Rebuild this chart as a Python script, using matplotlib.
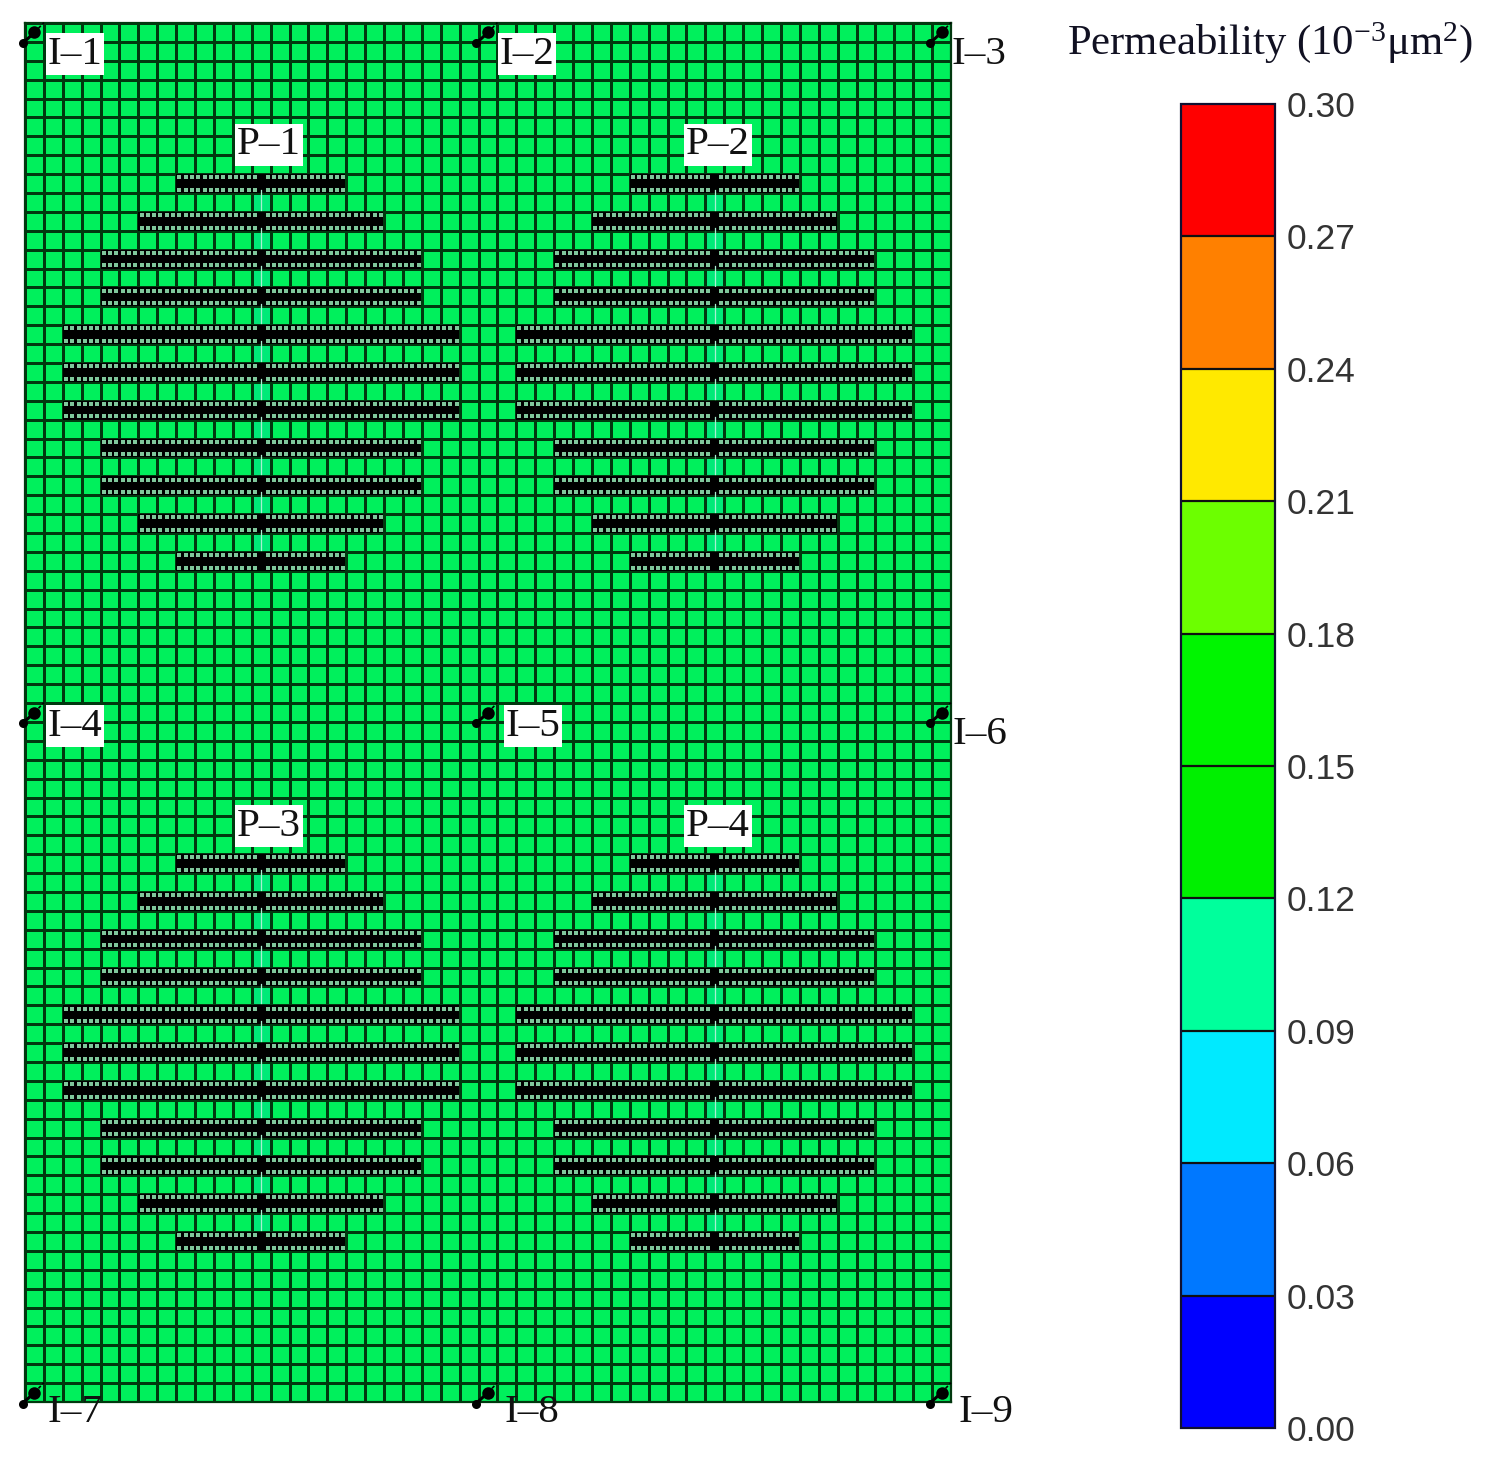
import numpy as np
import matplotlib
matplotlib.use("Agg")
import matplotlib.pyplot as plt
from matplotlib.colors import ListedColormap, BoundaryNorm
from matplotlib.cm import ScalarMappable

W, H = 1485, 1466

n_cols = 49
n_rows = 73

# fractured wells: centre column, first fracture row
producer_cols = [12, 36]
producer_first_rows = [8, 44]
fracture_half_lengths = [4, 6, 8, 8, 10, 10, 10, 8, 8, 6, 4]

injector_cols = [0, 24, 48]
injector_rows = [0, 36, 72]

label_names = ["I\u20131", "I\u20132", "I\u20133", "I\u20134", "I\u20135", "I\u20136", "I\u20137", "I\u20138", "I\u20139",
               "P\u20131", "P\u20132", "P\u20133", "P\u20134"]
label_px = [75, 527, 979, 75, 533, 980, 75, 532, 986, 269, 718, 269, 718]
label_py = [54, 54, 54, 726, 726, 735, 1413, 1413, 1413, 145, 145, 826, 826]
label_boxed = [True, True, False, True, True, False, False, False, False, True, True, True, True]

perm_levels = [0.00, 0.03, 0.06, 0.09, 0.12, 0.15, 0.18, 0.21, 0.24, 0.27, 0.30]
perm_colors = ["#0000ff", "#0078ff", "#00eaff", "#00ff9c", "#00f000",
               "#00f500", "#6cff00", "#ffe900", "#ff8000", "#ff0000"]

matrix_color = "#00f05c"
stimulated_color = "#00ea78"
grid_color = "#01380f"

plt.rcParams["font.family"] = "Liberation Serif"
plt.rcParams["mathtext.default"] = "regular"

fig = plt.figure(figsize=(W / 100, H / 100), dpi=100)
ax = fig.add_axes([25 / W, 1 - 1402 / H, 926 / W, 1379 / H])

# 0 = matrix, 1 = stimulated column through each well
field = np.zeros((n_rows, n_cols))
for c, r0 in [(c, r) for c in producer_cols for r in producer_first_rows]:
    field[r0:r0 + 2 * len(fracture_half_lengths) - 1, c] = 1

ax.pcolormesh(np.arange(n_cols + 1), np.arange(n_rows + 1), field,
              cmap=ListedColormap([matrix_color, stimulated_color]), vmin=0, vmax=1,
              edgecolors=grid_color, linewidth=1.8)

for c in producer_cols:
    for r0 in producer_first_rows:
        for i, hl in enumerate(fracture_half_lengths):
            r = r0 + 2 * i
            ax.barh(r + 0.5, 2 * hl + 0.95, left=c - hl, height=1.0, color="black", zorder=3)
            # refined cells show up as a row of tiny dots on each edge of the fracture
            xs = np.arange(c - hl, c + hl + 1, 1 / 3) + 1 / 6
            xs = xs[np.abs(xs - c - 0.5) > 0.3]
            for dy in [0.17, 0.83]:
                ax.scatter(xs, np.full(len(xs), r + dy), s=6.5, marker="s", linewidths=0,
                           color="#7fc79b", zorder=4)
            # pale dashed centre line between fractures
            if i < len(fracture_half_lengths) - 1:
                ax.plot([c + 0.5, c + 0.5], [r + 0.85, r + 1.9], color="#a8f0d2", lw=0.9,
                        zorder=3)

for c in injector_cols:
    for r in injector_rows:
        ax.plot([c + 0.5, c + 1.0], [r + 0.5, r - 0.02], color="black", lw=1.2, ls=(0, (2, 1.5)),
                zorder=5, clip_on=False)
        ax.plot([c - 0.13, c + 0.5], [r + 1.08, r + 0.5], color="black", lw=2.2,
                zorder=5, clip_on=False)
        ax.plot([c + 0.5], [r + 0.5], "o", color="black", ms=9, mew=0, zorder=6, clip_on=False)
        ax.plot([c - 0.13], [r + 1.08], "o", color="black", ms=6.5, mew=0, zorder=6, clip_on=False)

ax.set_xlim(0, n_cols)
ax.set_ylim(n_rows, 0)
ax.set_xticks([])
ax.set_yticks([])
for s in ax.spines.values():
    s.set_color(grid_color)
    s.set_linewidth(1.6)

for name, px, py, boxed in zip(label_names, label_px, label_py, label_boxed):
    fig.text(px / W, 1 - py / H, name, fontsize=29.5, color="#111111", ha="center", va="center",
             zorder=10, bbox=dict(facecolor="white", edgecolor="none", pad=1.5) if boxed else None)

# colour bar
cax = fig.add_axes([1181 / W, 1 - 1428 / H, 94 / W, 1324 / H])
norm = BoundaryNorm(perm_levels, len(perm_colors))
cb = fig.colorbar(ScalarMappable(norm=norm, cmap=ListedColormap(perm_colors)), cax=cax,
                  ticks=perm_levels, spacing="uniform", drawedges=True, format="%.2f")
cb.dividers.set_color("#101010")
cb.dividers.set_linewidth(1.6)
cb.outline.set_edgecolor("#101030")
cb.outline.set_linewidth(1.6)
cax.tick_params(length=0, pad=8.5, labelsize=25.5, labelcolor="#333333")
for t in cax.get_yticklabels():
    t.set_fontfamily("Liberation Sans")

fig.text(1270 / W, 1 - 43 / H, "Permeability (10$^{\u22123}$\u03bcm$^{2}$)", fontsize=30.8,
         color="#111122", ha="center", va="center")

fig.savefig("out.png", dpi=100, facecolor="white")
